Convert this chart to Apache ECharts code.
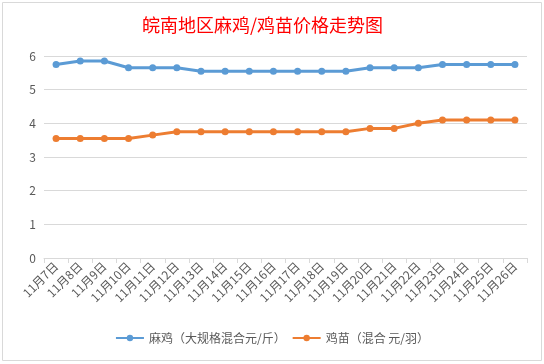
<!DOCTYPE html>
<html><head><meta charset="utf-8">
<script src="https://cdn.jsdelivr.net/npm/echarts@6/dist/echarts.min.js"></script>
<style>html,body{margin:0;padding:0;background:#fff}#c{width:544px;height:364px}</style>
</head><body><div id="c"></div>
<script>
const categories = ['11月7日','11月8日','11月9日','11月10日','11月11日','11月12日','11月13日','11月14日','11月15日','11月16日','11月17日','11月18日','11月19日','11月20日','11月21日','11月22日','11月23日','11月24日','11月25日','11月26日'];
const maJi = [5.75,5.85,5.85,5.65,5.65,5.65,5.55,5.55,5.55,5.55,5.55,5.55,5.55,5.65,5.65,5.65,5.75,5.75,5.75,5.75];
const jiMiao = [3.55,3.55,3.55,3.55,3.65,3.75,3.75,3.75,3.75,3.75,3.75,3.75,3.75,3.85,3.85,4.0,4.1,4.1,4.1,4.1];
const seriesNames = ['麻鸡（大规格混合元/斤）','鸡苗（混合 元/羽）'];
const titleText = '皖南地区麻鸡/鸡苗价格走势图';

const chart = echarts.init(document.getElementById('c'));
const font = '"Noto Sans CJK SC", "Noto Sans", sans-serif';
chart.setOption({
  animation: false,
  textStyle: {fontFamily: font},
  graphic: [{type:'rect', shape:{x:2.5,y:2.5,width:539,height:358}, style:{fill:'none', stroke:'#d9d9d9', lineWidth:1}, silent:true}],
  title: {text: titleText, left: 137, top: 11, textStyle:{color:'#ff0000', fontSize:18, fontWeight:'normal', fontFamily: font}},
  grid: {left:44, right:17, top:56, bottom:106},
  legend: {bottom: 15, left:'center', itemWidth: 28, itemHeight: 8, itemGap: 6,
    textStyle:{color:'#595959', fontSize:12, fontFamily: font},
    data: seriesNames},
  xAxis: {type:'category', data: categories, boundaryGap:true,
    axisLine:{lineStyle:{color:'#d9d9d9'}},
    axisTick:{show:true, length:5, lineStyle:{color:'#d9d9d9'}},
    axisLabel:{rotate:45, color:'#595959', fontSize:12, interval:0, margin:6}},
  yAxis: {type:'value', min:0, max:6, interval:1,
    axisLine:{show:false}, axisTick:{show:false},
    splitLine:{lineStyle:{color:'#d9d9d9'}},
    axisLabel:{color:'#595959', fontSize:12, margin:8}},
  series: [
    {name: seriesNames[0], type:'line', data: maJi, symbol:'circle', symbolSize:7,
     itemStyle:{color:'#5b9bd5'}, lineStyle:{width:3, color:'#5b9bd5'}},
    {name: seriesNames[1], type:'line', data: jiMiao, symbol:'circle', symbolSize:7,
     itemStyle:{color:'#ed7d31'}, lineStyle:{width:3, color:'#ed7d31'}}
  ]
});
</script></body></html>
